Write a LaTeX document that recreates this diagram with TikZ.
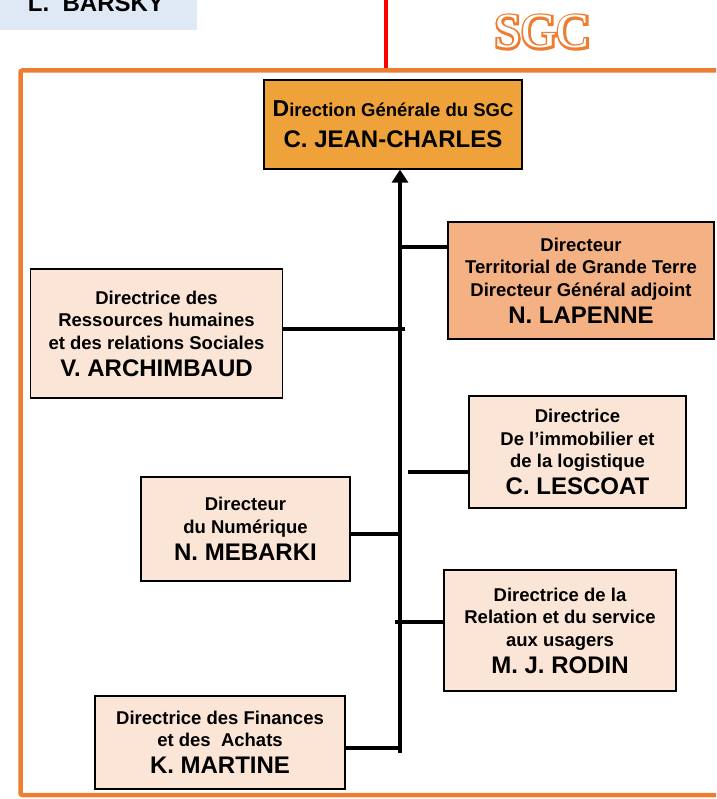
\documentclass[tikz,border=0pt]{standalone}
\usepackage{fontspec}
\setmainfont{Liberation Sans}
\newfontfamily\sgcout[FakeBold=9]{Liberation Serif}
\newfontfamily\sgcin{Liberation Serif}
\usetikzlibrary{arrows.meta}
\definecolor{frameor}{HTML}{ED7D31}
\definecolor{topor}{HTML}{F0A23A}
\definecolor{lapor}{HTML}{F4B183}
\definecolor{peach}{HTML}{FBE5D6}
\definecolor{lblue}{HTML}{DEE9F5}
\tikzset{
  box/.style={draw=black, line width=1.3pt, inner sep=0pt, align=center,
    font=\bfseries\fontsize{18.5}{22.5}\selectfont, fill=peach},
  conn/.style={line width=4pt, black},
  sgcstyle/.style={anchor=base, inner sep=0pt}
}
\newcommand{\nmf}{\fontsize{24}{27}\selectfont}
\begin{document}
\begin{tikzpicture}[x=1pt,y=-1pt]
\useasboundingbox (0,0) rectangle (716,799);
\clip (0,0) rectangle (716,799);
% top-left blue box
\node[fill=lblue, minimum width=197pt, minimum height=30pt, inner sep=0pt, anchor=north west] (bar) at (0,0) {};
\node[anchor=base, font=\bfseries\nmf, inner sep=0pt] (bartxt) at (96,12) {L.\ \ BARSKY};
% red line
\coordinate (r1) at (386,-2);
\coordinate (r2) at (386,68);
\draw[red, line width=3.3pt] (r1) -- (r2);
% SGC
\node[sgcstyle, text=frameor, font=\sgcout\fontsize{49}{49}\selectfont] (sgc) at (542,48) {SGC};
\node[sgcstyle, text=white, font=\sgcin\fontsize{49}{49}\selectfont] (sgc2) at (542,48) {SGC};
% orange frame
\draw[frameor, line width=4.5pt, rounded corners=2pt] (740,70.5) -- (20.5,70.5) -- (20.5,795) -- (740,795);
% boxes
\node[box, fill=topor, minimum width=258pt, minimum height=89pt] (top) at (393,124.5)
  {{\fontsize{23}{23}\selectfont D}irection Générale du SGC\\[8.5pt]{\nmf C. JEAN-CHARLES}};
\node[box, fill=lapor, minimum width=266pt, minimum height=117pt] (lap) at (581,280.5)
  {Directeur\\Territorial de Grande Terre\\Directeur Général adjoint\\[4.5pt]{\nmf N. LAPENNE}};
\node[box, minimum width=252pt, minimum height=129pt] (arch) at (156.5,333.5)
  {Directrice des\\Ressources humaines\\et des relations Sociales\\[4.5pt]{\nmf V. ARCHIMBAUD}};
\node[box, minimum width=217pt, minimum height=112pt] (lesc) at (577.5,452)
  {Directrice\\De l’immobilier et\\de la logistique\\[4.5pt]{\nmf C. LESCOAT}};
\node[box, minimum width=209pt, minimum height=104pt] (meb) at (245.5,529)
  {Directeur\\du Numérique\\[4.5pt]{\nmf N. MEBARKI}};
\node[box, minimum width=232pt, minimum height=121pt] (rod) at (560,630.5)
  {Directrice de la\\Relation et du service\\aux usagers\\[4.5pt]{\nmf M. J. RODIN}};
\node[box, minimum width=250pt, minimum height=93pt] (mar) at (220,742.5)
  {Directrice des Finances\\et des\ \ Achats\\[4.5pt]{\nmf K. MARTINE}};
% trunk
\coordinate (tb) at (400,753);
\draw[line width=4pt, -{Triangle[width=16pt,length=13pt]}] (tb) -- (tb |- top.south);
% connectors
\coordinate (c1) at (402,247);
\draw[conn] (c1) -- (lap.west |- c1);
\coordinate (c2) at (405,329);
\draw[conn] (c2) -- (arch.east |- c2);
\coordinate (c3) at (408,472);
\draw[conn] (c3) -- (lesc.west |- c3);
\coordinate (c4) at (401,534);
\draw[conn] (c4) -- (meb.east |- c4);
\coordinate (c5) at (395,622);
\draw[conn] (c5) -- (rod.west |- c5);
\coordinate (c6) at (401,748);
\draw[conn] (c6) -- (mar.east |- c6);
\end{tikzpicture}
\end{document}
